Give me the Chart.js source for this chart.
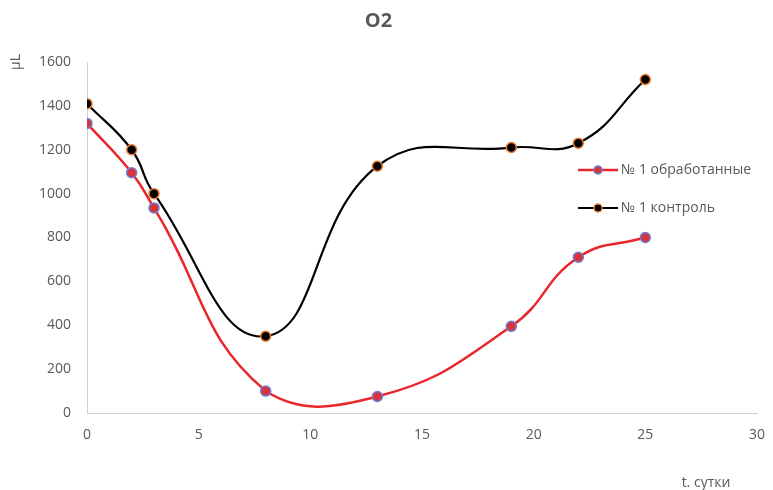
<!DOCTYPE html>
<html>
<head>
<meta charset="utf-8">
<script src="https://cdn.jsdelivr.net/npm/chart.js@4"></script>
<style>
  html, body { margin: 0; padding: 0; background: #fff; }
  #wrap { width: 773px; height: 490px; }
</style>
</head>
<body>
<div id="wrap"><canvas id="chart" width="773" height="490"></canvas></div>
<script>
// ---------------------------------------------------------------------------
// Data
// ---------------------------------------------------------------------------
const days = [0, 2, 3, 8, 13, 19, 22, 25];
const treated = [1320, 1095, 935, 100, 75, 395, 710, 800];
const control = [1410, 1200, 1000, 350, 1125, 1210, 1230, 1520];
const seriesLabels = ["№ 1 обработанные", "№ 1 контроль"];
const xTitle = "t. сутки";
const yTitle = "μL";

const FONT = "'Open Sans', 'Liberation Sans', sans-serif";
const TEXT = "#595959";

const toPoints = (xs, ys) => xs.map((x, i) => ({ x, y: ys[i] }));

// ---------------------------------------------------------------------------
// Legend drawn as line + marker (Excel style), plus the axis captions
// ---------------------------------------------------------------------------
const lineLegend = {
    id: "lineLegend",
    afterDraw(chart) {
        const ctx = chart.ctx;
        const rows = [170, 208];
        ctx.save();
        chart.data.datasets.forEach((ds, i) => {
            const y = rows[i];
            ctx.strokeStyle = ds.borderColor;
            ctx.lineWidth = ds.borderWidth;
            ctx.beginPath();
            ctx.moveTo(578, y);
            ctx.lineTo(618, y);
            ctx.stroke();
            ctx.beginPath();
            ctx.arc(598, y, 4, 0, Math.PI * 2);
            ctx.fillStyle = ds.pointBackgroundColor;
            ctx.fill();
            ctx.lineWidth = 1.5;
            ctx.strokeStyle = ds.pointBorderColor;
            ctx.stroke();
            ctx.fillStyle = TEXT;
            ctx.font = "14px " + FONT;
            ctx.textBaseline = "middle";
            ctx.textAlign = "left";
            ctx.fillText(ds.label, 621, y);
        });
        // axis captions, placed as in the original
        ctx.textAlign = "center";
        ctx.fillText(xTitle, 706, 483);
        ctx.translate(16, 62);
        ctx.rotate(-Math.PI / 2);
        ctx.fillText(yTitle, 0, 0);
        ctx.restore();
    },
};

// ---------------------------------------------------------------------------
// Chart
// ---------------------------------------------------------------------------
new Chart(document.getElementById("chart"), {
    type: "line",
    data: {
        datasets: [
            {
                label: seriesLabels[0],
                data: toPoints(days, treated),
                borderColor: "#e8262b",
                borderWidth: 2.5,
                pointBackgroundColor: "#d9323a",
                pointBorderColor: "#6a7fd6",
                pointBorderWidth: 1.5,
                pointRadius: 5,
                tension: 0.45,
            },
            {
                label: seriesLabels[1],
                data: toPoints(days, control),
                borderColor: "#000000",
                borderWidth: 2.2,
                pointBackgroundColor: "#000000",
                pointBorderColor: "#ed7d31",
                pointBorderWidth: 1.5,
                pointRadius: 5,
                tension: 0.45,
            },
        ],
    },
    options: {
        responsive: false,
        animation: false,
        layout: { padding: { left: 0, right: 16, top: 0, bottom: 0 } },
        plugins: {
            legend: { display: false },
            tooltip: { enabled: false },
            title: {
                display: true,
                text: "O2",
                color: TEXT,
                font: { family: FONT, size: 20, weight: "bold" },
                padding: { top: 9, bottom: 29 },
            },
        },
        scales: {
            x: {
                type: "linear",
                min: 0,
                max: 30,
                ticks: {
                    stepSize: 5, color: TEXT, font: { family: FONT, size: 14 }, padding: 14,
                    callback: (v) => String(v),
                },
                grid: { color: "transparent", drawTicks: false },
                border: { display: true, color: "#d0d0d0", width: 1 },
                afterFit(scale) {
                    scale.height = 77;
                    scale.paddingLeft = 0;
                    scale.paddingRight = 0;
                },
            },
            y: {
                min: 0,
                max: 1600,
                ticks: {
                    stepSize: 200, color: TEXT, font: { family: FONT, size: 14 }, padding: 16,
                    callback: (v) => String(v),
                },
                grid: { color: "transparent", drawTicks: false },
                border: { display: true, color: "#d0d0d0", width: 1 },
                afterFit(scale) { scale.width = 87; },
            },
        },
    },
    plugins: [lineLegend],
});
</script>
</body>
</html>
